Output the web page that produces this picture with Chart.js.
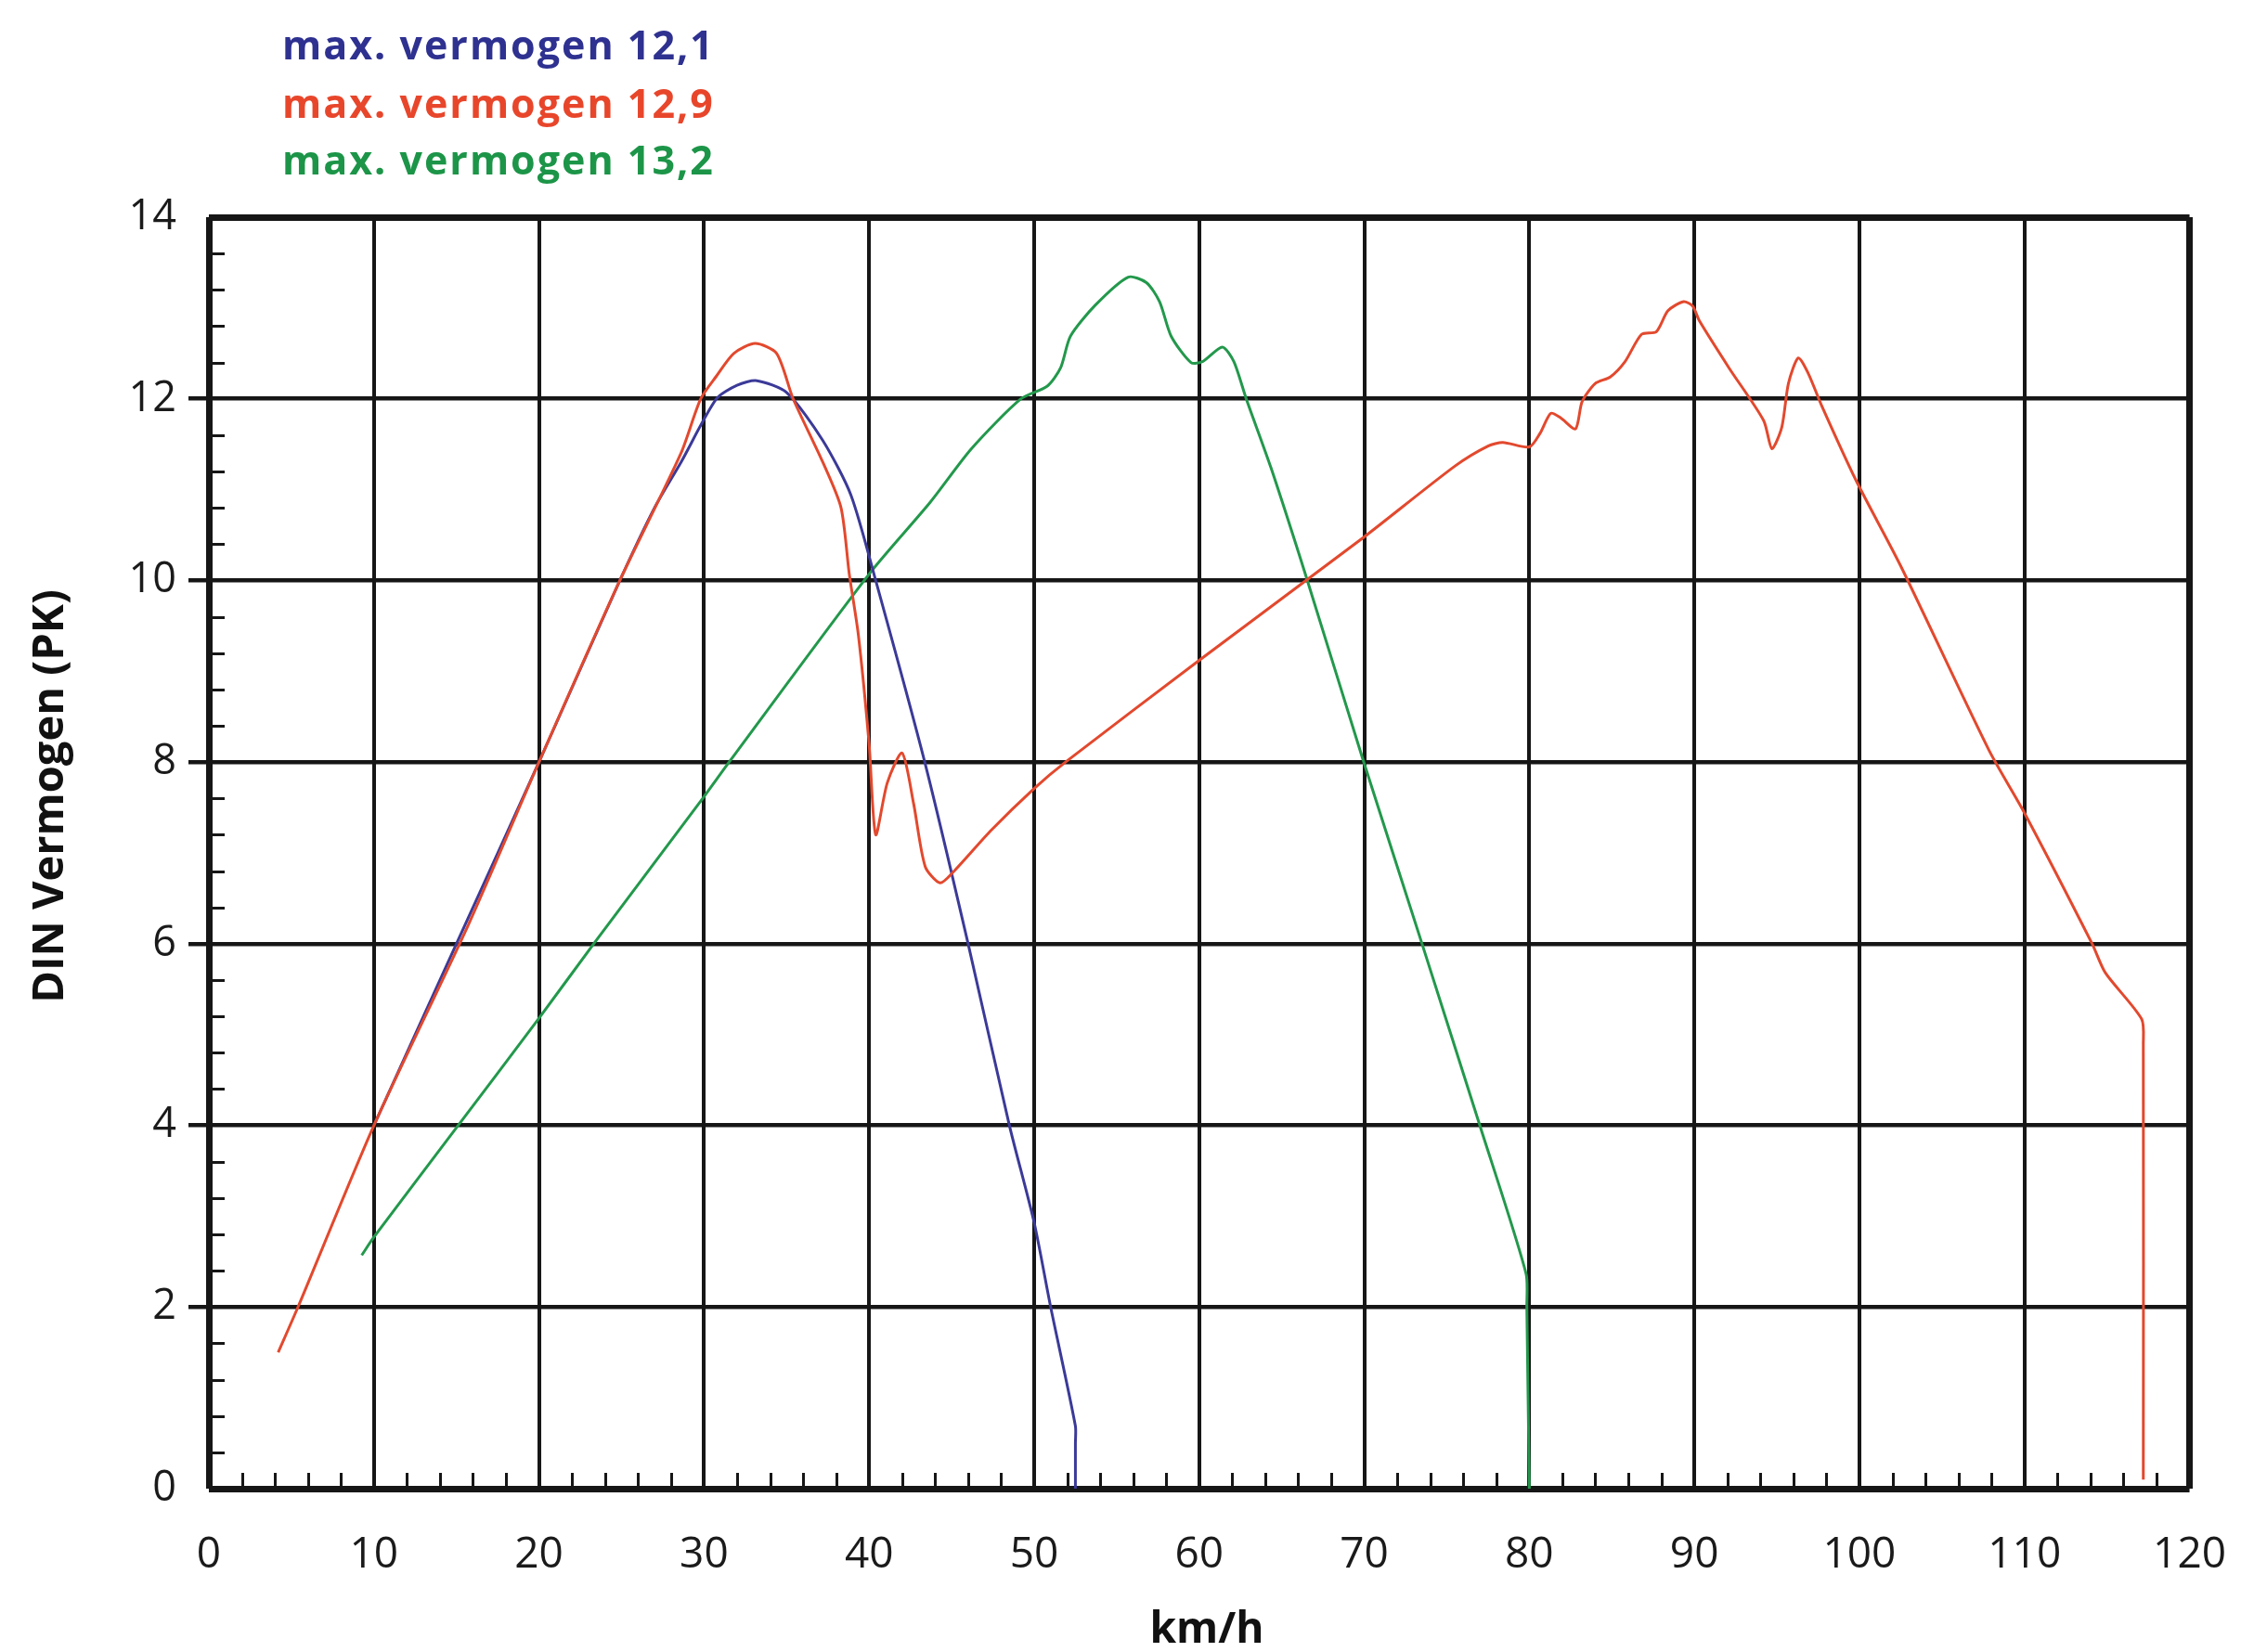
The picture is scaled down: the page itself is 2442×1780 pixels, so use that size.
<!DOCTYPE html>
<html>
<head>
<meta charset="utf-8">
<title>DIN Vermogen</title>
<script src="https://cdn.jsdelivr.net/npm/chart.js@4.4.1/dist/chart.umd.min.js"></script>
<style>
  html, body { margin: 0; padding: 0; background: #fff; }
  #wrap { width: 2442px; height: 1780px; }
</style>
</head>
<body>
<div id="wrap"><canvas id="chart" width="2442" height="1780"></canvas></div>
<script>
// Power curves off a scanned dyno sheet. Speed in km/h, power in DIN PK.
// Points were read by eye from the sheet, so they are approximate.
const names = ["max. vermogen 12,1", "max. vermogen 12,9", "max. vermogen 13,2"];

const blueKmh = [10, 15, 20, 24.9, 27, 28.6, 30.75, 32, 33.2, 35, 37.2, 38.9, 40.4, 43.4, 46, 48.5, 50, 51, 52.5, 52.5, 52.5];
const bluePk = [4.0, 6.0, 8.0, 10.0, 10.8, 11.3, 12.0, 12.15, 12.2, 12.07, 11.54, 10.94, 10.0, 7.98, 6.0, 4.0, 2.93, 2.0, 0.69, 0.5, 0];

const redKmh = [4.2, 5.4, 10, 15.7, 20, 24.9, 28.6, 29.8, 30.75, 31.8, 33.1, 34.4, 35.4, 37.2, 38.3, 38.8, 39.35, 40.0, 40.4,
  41.1, 42.0, 42.7, 43.4, 44.3, 45.1, 47.4, 50, 51.9, 60, 70, 75.5, 77.5, 78.4, 80, 80.65, 81.3, 81.9,
  82.8, 83.2, 84.0, 84.9, 85.8, 86.8, 87.7, 88.4, 89.35, 89.9, 90.3, 92.1, 94.2, 94.7, 95.3, 95.7, 96.3, 96.9, 97.7, 99.8,
  102.5, 107.85, 110, 114.1, 114.9, 117.1, 117.2, 117.2];
const redPk = [1.5, 2.0, 4.0, 6.2, 8.0, 10.0, 11.4, 12.0, 12.25, 12.5, 12.61, 12.5, 12.0, 11.3, 10.8, 10.07, 9.4, 8.2, 7.2,
  7.77, 8.1, 7.54, 6.85, 6.67, 6.79, 7.25, 7.71, 8.0, 9.12, 10.48, 11.26, 11.48, 11.52, 11.47, 11.62, 11.84, 11.79,
  11.67, 11.97, 12.17, 12.24, 12.41, 12.71, 12.74, 12.97, 13.07, 13.02, 12.86, 12.34, 11.76, 11.45, 11.69, 12.17, 12.45, 12.28, 11.93, 11.1,
  10.16, 8.13, 7.44, 6.0, 5.68, 5.17, 4.9, 0.1];

const greenKmh = [9.26, 10, 14.9, 20, 23.4, 30, 31.6, 40, 43.7, 46.2, 49.2, 50.8, 51.6, 52.2, 53.7, 55.7, 56.8, 57.6, 58.3,
  59.5, 60.2, 61.4, 62.1, 62.85, 64.35, 66.5, 69.9, 73.5, 77.0, 79.8, 79.85, 80.0];
const greenPk = [2.57, 2.77, 3.95, 5.18, 6.02, 7.62, 8.02, 10.07, 10.86, 11.45, 12.0, 12.14, 12.34, 12.69, 13.03, 13.34, 13.28, 13.07, 12.69,
  12.4, 12.41, 12.57, 12.41, 12.0, 11.24, 10.03, 8.04, 6.0, 4.0, 2.37, 2.0, 0];

const xTicks = [0, 10, 20, 30, 40, 50, 60, 70, 80, 90, 100, 110, 120];
const yTicks = [0, 2, 4, 6, 8, 10, 12, 14];
const xMinorStep = 2;
const yMinorStep = 0.4;

const lineColors = ["#3b3a98", "#e2492e", "#23984c"];
const textColors = ["#2e3190", "#e8462b", "#1c9548"];
const INK = "#161616";

function pts(xs, ys) {
  return xs.map((x, i) => ({ x, y: ys[i] }));
}

function ds(label, data, color, order) {
  return {
    label,
    data,
    borderColor: color,
    backgroundColor: color,
    borderWidth: 3,
    pointRadius: 0,
    tension: 0.25,
    fill: false,
    order,
  };
}

// minor ticks on the inside of the left and bottom axis
const minorTicks = {
  id: "minorTicks",
  beforeDatasetsDraw(chart) {
    const { ctx, chartArea: a, scales } = chart;
    ctx.save();
    ctx.strokeStyle = INK;
    ctx.lineWidth = 3;
    ctx.beginPath();
    for (let v = xMinorStep; v < 120; v += xMinorStep) {
      if (Math.abs(v / 10 - Math.round(v / 10)) < 1e-6) continue;
      const px = Math.round(scales.x.getPixelForValue(v)) + 0.5;
      ctx.moveTo(px, a.bottom - 3);
      ctx.lineTo(px, a.bottom - 17);
    }
    for (let v = yMinorStep; v < 14; v += yMinorStep) {
      if (Math.abs(v / 2 - Math.round(v / 2)) < 1e-6) continue;
      const py = Math.round(scales.y.getPixelForValue(v)) + 0.5;
      ctx.moveTo(a.left + 3, py);
      ctx.lineTo(a.left + 17, py);
    }
    ctx.stroke();
    ctx.restore();
  },
};

// axis titles and the coloured legend lines at the top
const labels = {
  id: "labels",
  afterDraw(chart) {
    const { ctx, chartArea: a } = chart;
    ctx.save();
    ctx.fillStyle = "#111";
    ctx.font = "bold 47px 'Open Sans'";
    ctx.textAlign = "center";
    ctx.textBaseline = "middle";
    ctx.translate(55, a.top + 624);
    ctx.rotate(-Math.PI / 2);
    ctx.fillText("DIN Vermogen (PK)", 0, 0);
    ctx.restore();

    ctx.save();
    ctx.fillStyle = "#111";
    ctx.font = "bold 46px 'Open Sans'";
    ctx.textAlign = "center";
    ctx.textBaseline = "alphabetic";
    ctx.fillText("km/h", 1300, 1770);
    ctx.restore();

    ctx.save();
    ctx.font = "bold 43px 'Open Sans'";
    ctx.letterSpacing = "2px";
    ctx.textAlign = "left";
    ctx.textBaseline = "alphabetic";
    const base = [64, 127, 188];
    names.forEach((n, i) => {
      ctx.fillStyle = textColors[i];
      ctx.fillText(n, 304, base[i]);
    });
    ctx.restore();
  },
};

const whiteBg = {
  id: "whiteBg",
  beforeDraw(chart) {
    const { ctx, width, height } = chart;
    ctx.save();
    ctx.fillStyle = "#fff";
    ctx.fillRect(0, 0, width, height);
    ctx.restore();
  },
};

new Chart(document.getElementById("chart").getContext("2d"), {
  type: "line",
  data: {
    datasets: [
      ds(names[0], pts(blueKmh, bluePk), lineColors[0], 1),
      ds(names[1], pts(redKmh, redPk), lineColors[1], 0),
      ds(names[2], pts(greenKmh, greenPk), lineColors[2], 2),
    ],
  },
  options: {
    responsive: false,
    animation: false,
    devicePixelRatio: 1,
    layout: { padding: { left: 0, right: 80, top: 234, bottom: 0 } },
    plugins: { legend: { display: false }, tooltip: { enabled: false } },
    scales: {
      x: {
        type: "linear",
        min: 0,
        max: 120,
        afterFit(s) { s.height = 176; },
        afterBuildTicks(s) { s.ticks = xTicks.map((v) => ({ value: v })); },
        grid: {
          color: INK,
          lineWidth: (c) => (c.tick && (c.tick.value === 0 || c.tick.value === 120) ? 7 : 4),
          drawTicks: false,
        },
        border: { display: false },
        ticks: {
          color: "#1a1a1a",
          font: { family: "'Open Sans'", size: 46 },
          padding: 44,
          maxRotation: 0,
          autoSkip: false,
        },
      },
      y: {
        min: 0,
        max: 14,
        afterFit(s) { s.width = 225; },
        afterBuildTicks(s) { s.ticks = yTicks.map((v) => ({ value: v })); },
        grid: {
          color: INK,
          lineWidth: (c) => (c.tick && (c.tick.value === 0 || c.tick.value === 14) ? 7 : 4.5),
          tickLength: 22,
          tickColor: (c) => (c.tick && (c.tick.value === 0 || c.tick.value === 14) ? "rgba(0,0,0,0)" : INK),
        },
        border: { display: false },
        ticks: {
          color: "#1a1a1a",
          font: { family: "'Open Sans'", size: 45 },
          padding: 13,
          autoSkip: false,
        },
      },
    },
  },
  plugins: [whiteBg, minorTicks, labels],
});
</script>
</body>
</html>
